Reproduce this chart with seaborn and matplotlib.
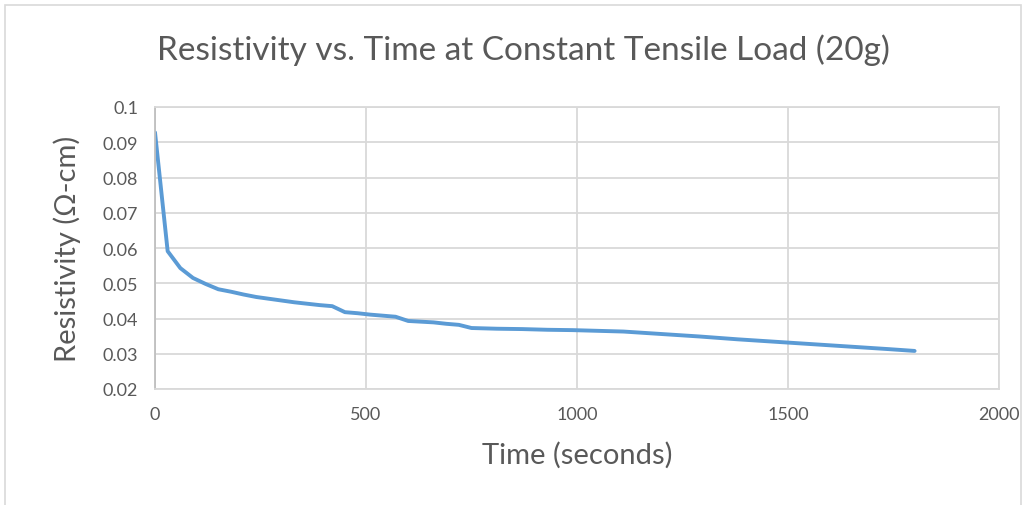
import matplotlib.pyplot as plt
from matplotlib.patches import Rectangle
import pandas as pd
import seaborn as sns

# Time (seconds) and resistivity (ohm-cm)
time_s = [0, 30, 60, 90, 120, 150, 180, 210, 240, 270, 300, 330, 360, 390, 420,
          450, 480, 510, 540, 570, 600, 630, 660, 690, 720, 750, 810, 870, 930,
          990, 1050, 1110, 1200, 1290, 1380, 1470, 1560, 1650, 1740, 1800]
resistivity = [0.0928, 0.0591, 0.0543, 0.0515, 0.0498, 0.0483, 0.0476, 0.0468,
               0.0461, 0.0456, 0.0451, 0.0446, 0.0442, 0.0438, 0.0435, 0.0418,
               0.0415, 0.0411, 0.0408, 0.0405, 0.0393, 0.0391, 0.0389, 0.0385,
               0.0382, 0.0373, 0.0371, 0.0370, 0.0368, 0.0367, 0.0365, 0.0363,
               0.0356, 0.0349, 0.0341, 0.0334, 0.0327, 0.0320, 0.0313, 0.0308]
x_ticks = [0, 500, 1000, 1500, 2000]
y_ticks = [0.02, 0.03, 0.04, 0.05, 0.06, 0.07, 0.08, 0.09, 0.1]
y_tick_labels = ['0.02', '0.03', '0.04', '0.05', '0.06', '0.07', '0.08', '0.09', '0.1']

df = pd.DataFrame({'time': time_s, 'resistivity': resistivity})

sns.set_theme(style="whitegrid")
plt.rcParams['font.family'] = ['Lato', 'DejaVu Sans']

text_col = '#595959'
grid_col = '#d9d9d9'

fig = plt.figure(figsize=(10.29, 5.06), dpi=100)
ax = fig.add_axes([155 / 1029, 1 - 390 / 506, (999 - 155) / 1029, (390 - 108) / 506])

sns.lineplot(x='time', y='resistivity', data=df, ax=ax, color='#5B9BD5',
             linewidth=2.8, solid_capstyle='round', solid_joinstyle='round')

ax.set_xlim(0, 2000)
ax.set_ylim(0.02, 0.1)
ax.set_xticks(x_ticks)
ax.set_xticklabels([str(t) for t in x_ticks])
ax.set_yticks(y_ticks)
ax.set_yticklabels(y_tick_labels)
ax.tick_params(axis='both', labelsize=13, colors=text_col, length=0)
ax.tick_params(axis='x', pad=12)
ax.tick_params(axis='y', pad=12)
ax.grid(True, color=grid_col, linewidth=1.3)
for s in ax.spines.values():
    s.set_color(grid_col)
    s.set_linewidth(1.3)
ax.spines['left'].set_color('#bfbfbf')

ax.set_xlabel('Time (seconds)', fontsize=21, color=text_col, labelpad=14)
ax.set_ylabel('Resistivity (\u03a9-cm)', fontsize=21, color=text_col, labelpad=16)

fig.text(523 / 1029, 1 - 50 / 506, 'Resistivity vs. Time at Constant Tensile Load (20g)',
         ha='center', va='center', fontsize=24, color=text_col)

# outer chart border
fig.patches.append(Rectangle((5 / 1029, -0.05), 1016 / 1029, 1.05 - 6 / 506,
                             transform=fig.transFigure, fill=False,
                             edgecolor='#d9d9d9', linewidth=1.2))

fig.savefig('out.png', dpi=100)
